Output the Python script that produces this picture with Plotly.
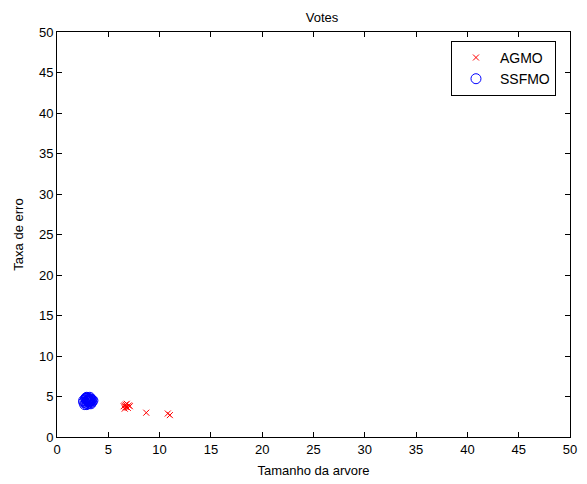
import plotly.graph_objects as go

agmo_x = [6.6, 6.8, 6.7, 6.9, 6.5, 7.0, 6.6, 6.8, 6.7, 7.1, 8.7, 10.8, 11.0]
agmo_y = [3.9, 3.7, 4.0, 3.6, 3.8, 3.9, 3.5, 4.1, 3.7, 3.8, 3.0, 2.9, 2.7]

ssfmo_x = [2.6, 2.8, 2.9, 3.0, 3.1, 3.2, 3.3, 3.4, 2.8, 2.9, 3.0, 3.1, 3.2, 3.3,
           2.7, 2.9, 3.0, 3.2, 3.4, 2.8, 3.1, 3.3, 2.9, 3.0, 3.2, 2.6, 3.5]
ssfmo_y = [4.5, 4.7, 4.8, 4.6, 4.4, 4.7, 4.5, 4.3, 4.2, 4.4, 4.1, 4.6, 4.2, 4.7,
           4.0, 4.9, 4.5, 4.4, 4.6, 4.8, 4.3, 4.1, 4.0, 4.8, 4.9, 4.3, 4.5]

xticks = list(range(0, 51, 5))
yticks = list(range(0, 51, 5))

font = dict(family="Liberation Sans, Arial, sans-serif", size=13, color="black")

fig = go.Figure()
fig.add_trace(go.Scatter(x=agmo_x, y=agmo_y, mode="markers", name="AGMO",
                         marker=dict(symbol="x-thin", size=6, line=dict(color="red", width=1), color="red")))
fig.add_trace(go.Scatter(x=ssfmo_x, y=ssfmo_y, mode="markers", name="SSFMO",
                         marker=dict(symbol="circle-open", size=10, color="blue", line=dict(color="blue", width=1))))

axis_common = dict(range=[0, 50], showgrid=False, zeroline=False, showline=True, linecolor="black",
                   linewidth=1, mirror="ticks", ticks="inside", ticklen=5, tickcolor="black",
                   tickfont=font, automargin=False)
fig.update_layout(
    width=587, height=484,
    margin=dict(l=49, r=25, t=24, b=55),
    paper_bgcolor="white", plot_bgcolor="white",
    font=font,
    title=dict(text="Votes", x=0.535, xanchor="center", y=0.99, yanchor="top", font=font),
    xaxis=dict(axis_common, tickvals=xticks, title=dict(text="Tamanho da arvore", font=font, standoff=10)),
    yaxis=dict(axis_common, tickvals=yticks, title=dict(text="Taxa de erro", font=font, standoff=12)),
    legend=dict(x=0.768, y=0.978, xanchor="left", yanchor="top", bordercolor="black", borderwidth=1,
                bgcolor="white", font=dict(family="Liberation Sans, Arial, sans-serif", size=14),
                tracegroupgap=0, itemwidth=38),
    showlegend=True,
)
fig.write_html("out.html")
